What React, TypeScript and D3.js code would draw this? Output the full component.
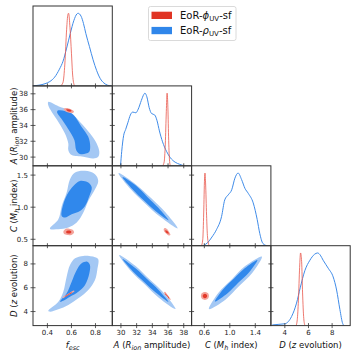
import React from 'react';
import * as d3 from 'd3';

// figure geometry
const W = 357,
  H = 357;
const left = 33,
  top = 6,
  pw = 79.3,
  ph = 79.9;

// parameter ranges (same for x and y axes)
const fRange = [0.28, 0.94];
const aRange = [28.9, 39.0];
const cRange = [0.4, 1.645];
const dRange = [2.82, 9.53];
const ranges = [fRange, aRange, cRange, dRange];

// ticks
const fTicks = [0.4, 0.6, 0.8];
const aTicks = [30, 32, 34, 36, 38];
const cTicksX = [0.6, 1.0, 1.4];
const cTicksY = [0.5, 1.0, 1.5];
const dTicks = [4, 6, 8];
const xTicks = [fTicks, aTicks, cTicksX, dTicks];
const yTicks = [fTicks, aTicks, cTicksY, dTicks];
const tickFmt = [d3.format('.1f'), d3.format('d'), d3.format('.1f'), d3.format('d')];

// 1D marginals [value, normalised density]
const fBlue = [
  [0.28, 0.0], [0.33, 0.01], [0.38, 0.03], [0.42, 0.06], [0.46, 0.12], [0.5, 0.23],
  [0.53, 0.34], [0.56, 0.52], [0.59, 0.72], [0.62, 0.9], [0.645, 0.99], [0.655, 1.0],
  [0.68, 0.96], [0.7, 0.86], [0.72, 0.72], [0.75, 0.54], [0.78, 0.36], [0.81, 0.21],
  [0.84, 0.1], [0.87, 0.04], [0.9, 0.01], [0.93, 0.0],
];
const fRed = [
  [0.51, 0.0], [0.53, 0.05], [0.545, 0.3], [0.56, 0.78], [0.57, 0.98], [0.576, 1.0],
  [0.588, 0.8], [0.6, 0.45], [0.61, 0.15], [0.625, 0.0],
];
const aBlue = [
  [29.95, 0.0], [30.1, 0.2], [30.35, 0.42], [30.6, 0.5], [30.9, 0.6], [31.2, 0.7],
  [31.5, 0.74], [31.9, 0.73], [32.2, 0.78], [32.6, 0.9], [32.9, 0.98], [33.05, 1.0],
  [33.3, 0.95], [33.6, 0.8], [33.9, 0.72], [34.3, 0.7], [34.6, 0.62], [34.9, 0.48],
  [35.3, 0.33], [35.8, 0.2], [36.3, 0.11], [36.9, 0.05], [37.5, 0.02], [38.0, 0.0],
];
const aRed = [
  [35.3, 0.0], [35.5, 0.05], [35.65, 0.3], [35.78, 0.75], [35.88, 1.0], [35.98, 0.8],
  [36.08, 0.35], [36.2, 0.06], [36.3, 0.0],
];
const cBlue = [
  [0.58, 0.0], [0.65, 0.04], [0.72, 0.12], [0.79, 0.22], [0.87, 0.4], [0.92, 0.63],
  [0.975, 0.7], [1.03, 0.77], [1.08, 0.93], [1.13, 1.0], [1.185, 0.91], [1.237, 0.79],
  [1.29, 0.72], [1.367, 0.59], [1.43, 0.36], [1.47, 0.17], [1.52, 0.03], [1.58, 0.0],
];
const cRed = [
  [0.555, 0.0], [0.575, 0.08], [0.59, 0.45], [0.603, 0.92], [0.61, 1.0], [0.62, 0.85],
  [0.635, 0.42], [0.65, 0.12], [0.675, 0.0],
];
const dBlue = [
  [2.85, 0.0], [3.0, 0.01], [4.0, 0.025], [4.57, 0.125], [4.99, 0.31], [5.3, 0.52],
  [5.7, 0.76], [6.12, 0.9], [6.5, 0.98], [6.77, 1.0], [7.0, 0.97], [7.24, 0.9],
  [7.67, 0.79], [8.09, 0.67], [8.38, 0.49], [8.66, 0.22], [8.89, 0.03], [9.0, 0.0],
];
const dRed = [
  [4.95, 0.0], [5.05, 0.08], [5.15, 0.35], [5.25, 0.8], [5.33, 1.0], [5.42, 0.88],
  [5.5, 0.45], [5.6, 0.1], [5.7, 0.0],
];
const blue1d = [fBlue, aBlue, cBlue, dBlue];
const red1d = [fRed, aRed, cRed, dRed];

// 2D contours (68% inner, 95% outer), [x, y] in parameter units
const blueOuterFA = [
  [0.407, 36.97], [0.491, 36.43], [0.574, 35.92], [0.671, 34.45], [0.755, 32.99],
  [0.81, 31.72], [0.832, 30.67], [0.823, 30.03], [0.782, 29.83], [0.699, 30.03],
  [0.602, 30.25], [0.574, 30.88], [0.574, 31.72], [0.546, 32.99], [0.491, 34.45],
  [0.436, 35.71], [0.407, 36.55],
];
const blueInnerFA = [
  [0.491, 35.91], [0.602, 35.51], [0.685, 33.82], [0.74, 32.56], [0.756, 31.3],
  [0.745, 30.6], [0.671, 30.4], [0.64, 30.88], [0.625, 32.14], [0.57, 33.62],
  [0.515, 34.88], [0.48, 35.71],
];
const redOuterFA = [
  [0.535, 36.1], [0.56, 36.2], [0.595, 36.05], [0.62, 35.8], [0.615, 35.6],
  [0.585, 35.62], [0.55, 35.8],
];
const redInnerFA = [
  [0.555, 36.02], [0.58, 36.05], [0.6, 35.9], [0.595, 35.75], [0.57, 35.8],
];

const blueOuterFC = [
  [0.421, 0.666], [0.491, 0.812], [0.519, 1.019], [0.56, 1.229], [0.588, 1.437],
  [0.63, 1.541], [0.713, 1.566], [0.796, 1.515], [0.823, 1.41], [0.796, 1.28],
  [0.74, 1.098], [0.699, 0.916], [0.644, 0.76], [0.574, 0.682], [0.491, 0.655],
];
const blueInnerFC = [
  [0.519, 0.863], [0.532, 1.046], [0.574, 1.229], [0.63, 1.358], [0.671, 1.41],
  [0.74, 1.385], [0.769, 1.307], [0.749, 1.176], [0.713, 1.019], [0.671, 0.941],
  [0.602, 0.89], [0.546, 0.838],
];
const redOuterFC = [
  [0.533, 0.62], [0.55, 0.66], [0.58, 0.665], [0.612, 0.645], [0.622, 0.605],
  [0.6, 0.568], [0.565, 0.565], [0.538, 0.585],
];
const redInnerFC = [
  [0.555, 0.615], [0.57, 0.635], [0.59, 0.633], [0.6, 0.612], [0.59, 0.592], [0.565, 0.593],
];

const blueOuterFD = [
  [0.407, 4.07], [0.491, 4.83], [0.532, 5.67], [0.56, 6.93], [0.588, 7.91], [0.63, 8.47],
  [0.699, 8.67], [0.796, 8.56], [0.823, 8.39], [0.815, 7.49], [0.796, 6.65], [0.74, 5.81],
  [0.657, 5.11], [0.574, 4.55], [0.491, 4.19], [0.421, 3.99],
];
const blueInnerFD = [
  [0.505, 4.83], [0.56, 5.53], [0.602, 6.51], [0.644, 7.49], [0.685, 8.05], [0.732, 8.19],
  [0.754, 7.91], [0.749, 7.21], [0.713, 6.23], [0.657, 5.67], [0.588, 5.25], [0.532, 4.91],
];
const redOuterFD = [
  [0.53, 5.12], [0.56, 5.3], [0.6, 5.52], [0.625, 5.7], [0.62, 5.76], [0.59, 5.6],
  [0.55, 5.35], [0.527, 5.18],
];
const redInnerFD = [
  [0.55, 5.25], [0.58, 5.43], [0.605, 5.58], [0.6, 5.6], [0.575, 5.46], [0.548, 5.28],
];

const blueOuterAC = [
  [29.7, 1.53], [31.91, 1.354], [33.8, 1.146], [35.63, 0.924], [37.22, 0.67],
  [35.04, 0.846], [33.12, 1.055], [31.28, 1.276],
];
const blueInnerAC = [
  [30.21, 1.468], [31.86, 1.34], [33.36, 1.16], [34.79, 0.988], [36.07, 0.796],
  [34.43, 0.937], [32.93, 1.104], [31.5, 1.277],
];
const redOuterAC = [
  [35.45, 0.66], [35.6, 0.675], [35.9, 0.655], [36.2, 0.6], [36.3, 0.565], [36.1, 0.56],
  [35.75, 0.59], [35.48, 0.63],
];
const redInnerAC = [
  [35.65, 0.64], [35.9, 0.63], [36.1, 0.59], [35.95, 0.59], [35.7, 0.615],
];

const blueOuterAD = [
  [29.77, 8.75], [31.87, 7.83], [33.67, 6.69], [35.47, 5.56], [36.96, 4.21],
  [34.86, 5.14], [33.06, 6.27], [31.26, 7.41],
];
const blueInnerAD = [
  [30.21, 8.41], [31.86, 7.63], [33.32, 6.73], [34.79, 5.82], [36.07, 4.8],
  [34.43, 5.59], [32.96, 6.49], [31.5, 7.39],
];
const redOuterAD = [
  [35.5, 5.62], [35.6, 5.66], [35.95, 5.4], [36.3, 5.08], [36.32, 4.98], [36.2, 5.0],
  [35.85, 5.28], [35.52, 5.52],
];
const redInnerAD = [
  [35.65, 5.52], [35.95, 5.32], [36.15, 5.12], [36.1, 5.1], [35.9, 5.28], [35.62, 5.48],
];

const blueOuterCD = [
  [0.672, 4.21], [0.825, 5.61], [1.033, 6.72], [1.241, 7.82], [1.504, 8.62],
  [1.351, 7.23], [1.143, 6.12], [0.935, 5.02],
];
const blueInnerCD = [
  [0.766, 4.84], [0.899, 5.89], [1.066, 6.77], [1.234, 7.63], [1.433, 8.33],
  [1.3, 7.28], [1.132, 6.41], [0.965, 5.54],
];
const redOuterCD = [
  [0.672, 5.31], [0.654, 5.55], [0.609, 5.65], [0.564, 5.55], [0.546, 5.31],
  [0.564, 5.07], [0.609, 4.97], [0.654, 5.07],
];
const redInnerCD = [
  [0.644, 5.31], [0.634, 5.44], [0.609, 5.5], [0.584, 5.44], [0.574, 5.31],
  [0.584, 5.18], [0.609, 5.12], [0.634, 5.18],
];

// keyed by "col-row"
const contours = {
  '0-1': [blueOuterFA, blueInnerFA, redOuterFA, redInnerFA],
  '0-2': [blueOuterFC, blueInnerFC, redOuterFC, redInnerFC],
  '0-3': [blueOuterFD, blueInnerFD, redOuterFD, redInnerFD],
  '1-2': [blueOuterAC, blueInnerAC, redOuterAC, redInnerAC],
  '1-3': [blueOuterAD, blueInnerAD, redOuterAD, redInnerAD],
  '2-3': [blueOuterCD, blueInnerCD, redOuterCD, redInnerCD],
};
const fills = ['#a4c8f4', '#3088ec', '#f3a49c', '#e33a2b'];

const blueLine = '#3f8be8';
const redLine = '#e8574b';
const font = 'DejaVu Sans, sans-serif';

const colX = (i) => left + i * pw;
const rowY = (j) => top + j * ph;

const AxisLabel = ({ k, sub = 6.5 }) => {
  if (k === 0)
    return (
      <>
        <tspan fontStyle="italic">f</tspan>
        <tspan fontStyle="italic" fontSize={sub} dy={2}>esc</tspan>
      </>
    );
  if (k === 1)
    return (
      <>
        <tspan fontStyle="italic">A</tspan>
        <tspan>{' ('}</tspan>
        <tspan fontStyle="italic">R</tspan>
        <tspan fontStyle="italic" fontSize={sub} dy={2}>ion</tspan>
        <tspan dy={-2}>{' amplitude)'}</tspan>
      </>
    );
  if (k === 2)
    return (
      <>
        <tspan fontStyle="italic">C</tspan>
        <tspan>{' ('}</tspan>
        <tspan fontStyle="italic">M</tspan>
        <tspan fontStyle="italic" fontSize={sub} dy={2}>h</tspan>
        <tspan dy={-2}>{' index)'}</tspan>
      </>
    );
  return (
    <>
      <tspan fontStyle="italic">D</tspan>
      <tspan>{' ('}</tspan>
      <tspan fontStyle="italic">z</tspan>
      <tspan>{' evolution)'}</tspan>
    </>
  );
};

const Panel = ({ i, j }) => {
  const x = d3.scaleLinear().domain(ranges[i]).range([colX(i), colX(i) + pw]);
  const diag = i === j;
  const y = d3
    .scaleLinear()
    .domain(diag ? [0, 1.1] : ranges[j])
    .range([rowY(j) + ph, rowY(j)]);
  const yRow = d3.scaleLinear().domain(ranges[j]).range([rowY(j) + ph, rowY(j)]);
  const id = `clip-${i}-${j}`;

  let marks;
  if (diag) {
    const line = d3
      .line()
      .x((d) => x(d[0]))
      .y((d) => y(d[1]))
      .curve(d3.curveMonotoneX);
    marks = (
      <>
        <path d={line(blue1d[i])} fill="none" stroke={blueLine} strokeWidth={1} />
        <path d={line(red1d[i])} fill="none" stroke={redLine} strokeWidth={0.8} />
      </>
    );
  } else {
    const shape = d3
      .line()
      .x((d) => x(d[0]))
      .y((d) => y(d[1]))
      .curve(d3.curveCatmullRomClosed.alpha(0.5));
    marks = contours[`${i}-${j}`].map((c, k) => <path key={k} d={shape(c)} fill={fills[k]} />);
  }

  const yb = rowY(j) + ph;
  return (
    <g>
      <clipPath id={id}>
        <rect x={colX(i)} y={rowY(j)} width={pw} height={ph} />
      </clipPath>
      <g clipPath={`url(#${id})`}>{marks}</g>
      <rect x={colX(i)} y={rowY(j)} width={pw} height={ph} fill="none" stroke="#333" strokeWidth={1} />
      {xTicks[i].map((t) => (
        <line key={'x' + t} x1={x(t)} x2={x(t)} y1={yb - 2.5} y2={yb + 2.5} stroke="#333" strokeWidth={0.8} />
      ))}
      {j > 0 &&
        yTicks[j].map((t) => (
          <line
            key={'y' + t}
            x1={colX(i) - 2.5}
            x2={colX(i) + 2.5}
            y1={yRow(t)}
            y2={yRow(t)}
            stroke="#333"
            strokeWidth={0.8}
          />
        ))}
      {j === 3 &&
        xTicks[i].map((t) => (
          <text key={'xl' + t} x={x(t)} y={334.5} fontSize={7} textAnchor="middle" fill="#222">
            {tickFmt[i](t)}
          </text>
        ))}
      {i === 0 &&
        j > 0 &&
        yTicks[j].map((t) => (
          <text key={'yl' + t} x={28} y={yRow(t) + 2.5} fontSize={7} textAnchor="end" fill="#222">
            {tickFmt[j](t)}
          </text>
        ))}
    </g>
  );
};

const App = () => {
  const cells = [];
  for (let j = 0; j < 4; j++) for (let i = 0; i <= j; i++) cells.push([i, j]);

  return (
    <svg
      width={W}
      height={H}
      style={{ position: 'absolute', left: 0, top: 0, background: '#fff' }}
      fontFamily={font}
    >
      <rect width={W} height={H} fill="#fff" />
      {cells.map(([i, j]) => (
        <Panel key={`${i}-${j}`} i={i} j={j} />
      ))}

      {[0, 1, 2, 3].map((k) => (
        <text key={'bl' + k} x={colX(k) + pw / 2} y={347.5} fontSize={8.5} textAnchor="middle" fill="#111">
          <AxisLabel k={k} />
        </text>
      ))}
      {[1, 2, 3].map((k) => (
        <text
          key={'ll' + k}
          transform={`translate(16.5,${rowY(k) + ph / 2}) rotate(-90)`}
          fontSize={8.5}
          textAnchor="middle"
          fill="#111"
        >
          <AxisLabel k={k} />
        </text>
      ))}

      {/* legend */}
      <g>
        <rect x={148.5} y={6.5} width={87.5} height={34} rx={2} fill="#fff" stroke="#d0d0d0" strokeWidth={0.8} />
        <rect x={151.5} y={11.7} width={20.5} height={7.3} fill="#e03424" />
        <rect x={151.5} y={26.9} width={20.5} height={7.3} fill="#2f86ea" />
        <text x={180} y={18.8} fontSize={10} fill="#111">
          EoR-<tspan fontStyle="italic">ϕ</tspan>
          <tspan fontSize={7} dy={2}>UV</tspan>
          <tspan dy={-2}>-sf</tspan>
        </text>
        <text x={180} y={34.2} fontSize={10} fill="#111">
          EoR-<tspan fontStyle="italic">ρ</tspan>
          <tspan fontSize={7} dy={2}>UV</tspan>
          <tspan dy={-2}>-sf</tspan>
        </text>
      </g>
    </svg>
  );
};

export default App;
